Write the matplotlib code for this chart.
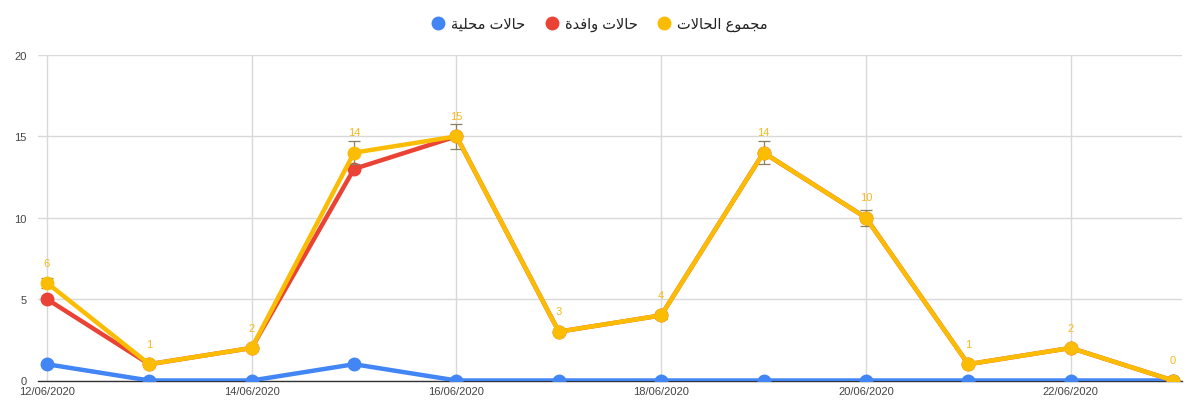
import matplotlib
matplotlib.use("Agg")
import matplotlib.pyplot as plt
import matplotlib.dates as mdates
import numpy as np
import pandas as pd

# ---- data ----
dates = ["12/06/2020", "13/06/2020", "14/06/2020", "15/06/2020", "16/06/2020", "17/06/2020",
         "18/06/2020", "19/06/2020", "20/06/2020", "21/06/2020", "22/06/2020", "23/06/2020"]
local_cases = [1, 0, 0, 1, 0, 0, 0, 0, 0, 0, 0, 0]
imported_cases = [5, 1, 2, 13, 15, 3, 4, 14, 10, 1, 2, 0]
total_cases = [6, 1, 2, 14, 15, 3, 4, 14, 10, 1, 2, 0]
series_names = ["حالات محلية", "حالات وافدة", "مجموع الحالات"]
y_ticks = [0, 5, 10, 15, 20]

# ---- minimal Arabic shaping (presentation forms, visual order) ----
FORMS = {
    "ح": (0xFEA1, 0xFEA2, 0xFEA3, 0xFEA4),
    "ا": (0xFE8D, 0xFE8E, None, None),
    "ل": (0xFEDD, 0xFEDE, 0xFEDF, 0xFEE0),
    "ت": (0xFE95, 0xFE96, 0xFE97, 0xFE98),
    "م": (0xFEE1, 0xFEE2, 0xFEE3, 0xFEE4),
    "ي": (0xFEF1, 0xFEF2, 0xFEF3, 0xFEF4),
    "ة": (0xFE93, 0xFE94, None, None),
    "و": (0xFEED, 0xFEEE, None, None),
    "ف": (0xFED1, 0xFED2, 0xFED3, 0xFED4),
    "د": (0xFEA9, 0xFEAA, None, None),
    "ج": (0xFE9D, 0xFE9E, 0xFE9F, 0xFEA0),
    "ع": (0xFEC9, 0xFECA, 0xFECB, 0xFECC),
}


def shape_word(word):
    units = []
    i = 0
    while i < len(word):
        if word[i] == "ل" and i + 1 < len(word) and word[i + 1] == "ا":
            units.append("LA")
            i += 2
        else:
            units.append(word[i])
            i += 1

    def joins_left(u):
        if u == "LA":
            return False
        return u in FORMS and FORMS[u][2] is not None

    out = []
    for k, u in enumerate(units):
        prev_j = k > 0 and joins_left(units[k - 1])
        if u == "LA":
            out.append(chr(0xFEFC if prev_j else 0xFEFB))
            continue
        if u not in FORMS:
            out.append(u)
            continue
        iso, fin, ini, med = FORMS[u]
        next_j = k + 1 < len(units) and joins_left(u)
        if prev_j and next_j:
            c = med
        elif prev_j:
            c = fin
        elif next_j:
            c = ini
        else:
            c = iso
        out.append(chr(c))
    return "".join(out)


def ar(text):
    shaped = " ".join(shape_word(w) for w in text.split(" "))
    return shaped[::-1]


plt.rcParams['font.family'] = ['Liberation Sans', 'DejaVu Sans']

x = pd.to_datetime(dates, format="%d/%m/%Y")

fig = plt.figure(figsize=(12, 4.1), dpi=100)
ax = fig.add_axes([38 / 1200, 1 - 381.5 / 410, (1182 - 38) / 1200, (381.5 - 56) / 410])

colors = ["#4285F4", "#EA4335", "#FBBC04"]
lw = 3.2
ms = 9

ax.plot(x, local_cases, color=colors[0], lw=lw, marker="o", ms=ms, label=ar(series_names[0]),
        zorder=3, solid_capstyle="round")
ax.plot(x, imported_cases, color=colors[1], lw=lw, marker="o", ms=ms, label=ar(series_names[1]),
        zorder=4, solid_capstyle="round")
tot = np.array(total_cases, dtype=float)
ax.errorbar(x, tot, yerr=tot * 0.05, fmt="none", ecolor="#8a8060", elinewidth=0.9,
            capsize=4, capthick=0.9, zorder=4.5)
ax.plot(x, total_cases, color=colors[2], lw=lw, marker="o", ms=ms, label=ar(series_names[2]),
        zorder=5, solid_capstyle="round")

for xi, v in zip(x, total_cases):
    ax.annotate(str(v), (xi, v), xytext=(0, 11), textcoords="offset points",
                ha="center", va="bottom", color="#F6B91C", fontsize=8)

ax.set_ylim(0, 20)
ax.set_yticks(y_ticks)
pad = pd.Timedelta(hours=2.1)
ax.set_xlim(x[0] - pad, x[-1] + pad)
ax.xaxis.set_major_locator(mdates.DayLocator(bymonthday=[12, 14, 16, 18, 20, 22]))
ax.xaxis.set_major_formatter(mdates.DateFormatter("%d/%m/%Y"))

ax.grid(True, color="#d9d9d9", lw=1)
ax.set_axisbelow(True)
for s in ["top", "right", "left"]:
    ax.spines[s].set_visible(False)
ax.spines["bottom"].set_color("#333333")
ax.spines["bottom"].set_linewidth(1)
ax.spines["bottom"].set_zorder(2.5)
ax.tick_params(axis="both", length=0, labelsize=8, colors="#444444")
ax.tick_params(axis="x", pad=4)
ax.tick_params(axis="y", pad=8)

fig.legend(loc="center", bbox_to_anchor=(0.5, 1 - 25 / 410), ncol=3, frameon=False,
           fontsize=10.5, handlelength=0.8, handletextpad=0.5, columnspacing=1.4,
           labelcolor="#222222")
leg = fig.legends[0]
for h in leg.legend_handles:
    h.set_linestyle("none")
    h.set_markersize(9)

fig.savefig("out.png", dpi=100, facecolor="white")
